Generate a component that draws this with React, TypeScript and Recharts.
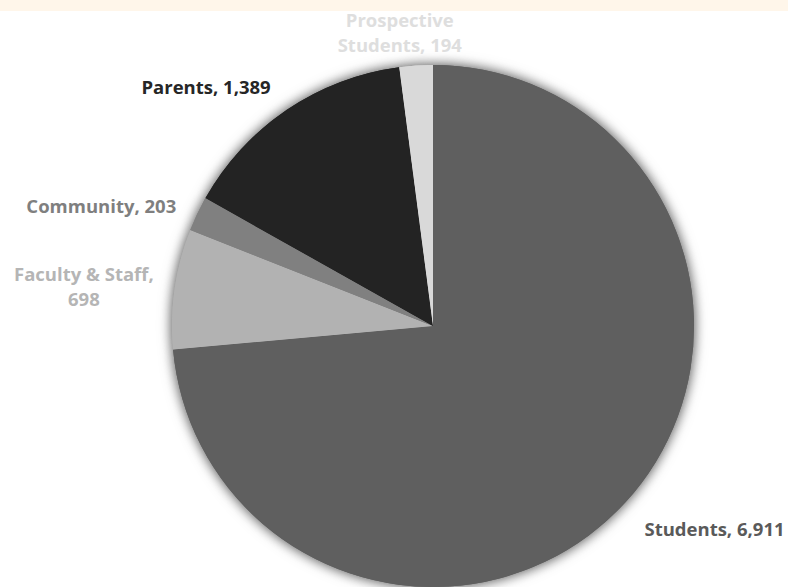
import React from "react";
import { PieChart, Pie, Cell } from "recharts";

const categories = ["Students", "Faculty & Staff", "Community", "Parents", "Prospective Students"];
const values = [6911, 698, 203, 1389, 194];
const labelLines: string[][] = [
  ["Students, 6,911"],
  ["Faculty & Staff,", "698"],
  ["Community, 203"],
  ["Parents, 1,389"],
  ["Prospective", "Students, 194"],
];
const sliceColors = ["#5f5f5f", "#b2b2b2", "#808080", "#232323", "#d9d9d9"];
const labelColors = ["#5a5a5a", "#b5b5b5", "#7f7f7f", "#262626", "#dedede"];
const labelAnchors = ["start", "middle", "end", "end", "middle"];
const labelNudge = [
  [4, 12],
  [-71, 0],
  [-3, 0],
  [-5, -7],
  [-15, -14],
];

const data = categories.map((name, i) => ({ name, value: values[i] }));

const RAD = Math.PI / 180;

const renderLabel = (props: any) => {
  const { cx, cy, midAngle, outerRadius, index } = props;
  const r = outerRadius + 20;
  const x = cx + r * Math.cos(-midAngle * RAD) + labelNudge[index][0];
  const y = cy + r * Math.sin(-midAngle * RAD) + labelNudge[index][1];
  const lines = labelLines[index];
  const lh = 25;
  const startY = y - ((lines.length - 1) * lh) / 2;
  return (
    <text
      key={`lbl-${index}`}
      x={x}
      y={startY}
      textAnchor={labelAnchors[index] as any}
      dominantBaseline="central"
      fill={labelColors[index]}
      style={{ fontFamily: "'Open Sans', sans-serif", fontWeight: 700, fontSize: 18.5 }}
    >
      {lines.map((ln, i) => (
        <tspan key={i} x={x} dy={i === 0 ? 0 : lh}>
          {ln}
        </tspan>
      ))}
    </text>
  );
};

const noMargin = { top: 0, right: 0, bottom: 0, left: 0 };

export default function App() {
  return (
    <div style={{ position: "absolute", left: 0, top: 0, width: 788, height: 587, background: "#ffffff", overflow: "hidden" }}>
      <style>{`.pie-shadow { filter: drop-shadow(0 0 6px rgba(0,0,0,0.4)); }`}</style>
      <div style={{ position: "absolute", left: 0, top: 0, width: 788, height: 11, background: "#fff6ea" }} />
      <div style={{ position: "absolute", left: 0, top: 0 }}>
        <PieChart width={788} height={587} margin={noMargin}>
          <Pie
            className="pie-shadow"
            data={data}
            dataKey="value"
            nameKey="name"
            cx={433}
            cy={326}
            outerRadius={261}
            startAngle={90}
            endAngle={-270}
            stroke="none"
            isAnimationActive={false}
            label={false}
            labelLine={false}
          >
            {data.map((d, i) => (
              <Cell key={`s-${i}`} fill={sliceColors[i]} />
            ))}
          </Pie>
          <Pie
            data={data}
            dataKey="value"
            nameKey="name"
            cx={433}
            cy={326}
            outerRadius={261}
            startAngle={90}
            endAngle={-270}
            stroke="none"
            isAnimationActive={false}
            label={renderLabel}
            labelLine={false}
          >
            {data.map((d, i) => (
              <Cell key={`c-${i}`} fill={sliceColors[i]} />
            ))}
          </Pie>
        </PieChart>
      </div>
    </div>
  );
}
